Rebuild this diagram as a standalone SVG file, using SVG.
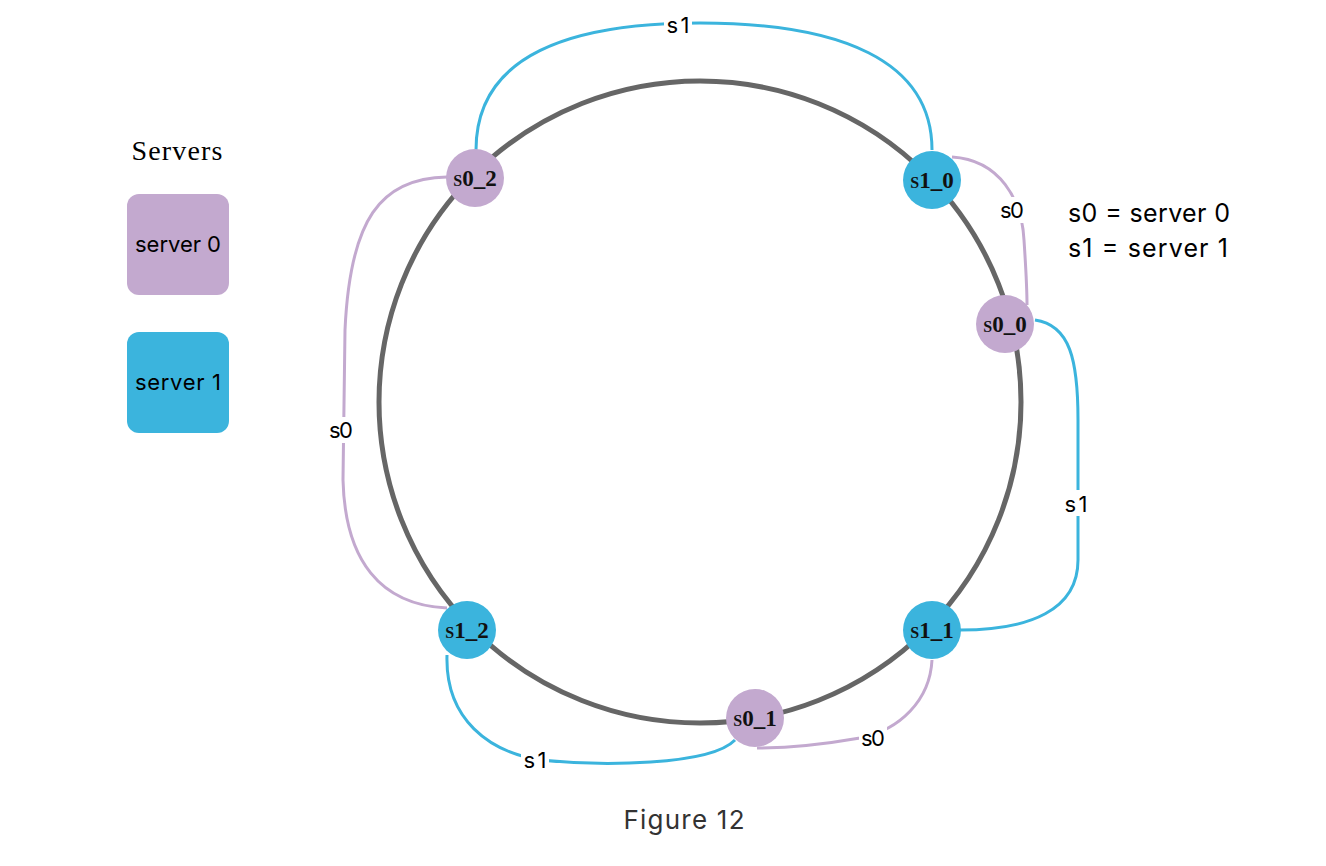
<svg xmlns="http://www.w3.org/2000/svg" width="1326" height="866" viewBox="0 0 1326 866">
<style>
.ring{fill:none;stroke:#666666;stroke-width:5}
.c0{fill:none;stroke:#C3A9CF;stroke-width:3}
.c1{fill:none;stroke:#3BB4DD;stroke-width:3}
.n0{fill:#C3A9CF}
.n1{fill:#3BB4DD}
.nl{font-family:"Liberation Serif",serif;font-size:23px;font-weight:bold;font-variant:small-caps;fill:#111;text-anchor:middle}
.lbl{font-family:Inter,"Liberation Sans",sans-serif;font-size:22px;fill:#000;text-anchor:middle}
.lb{fill:#fff}
.leg{font-family:Inter,"Liberation Sans",sans-serif;font-size:22px;fill:#000;text-anchor:middle}
.note{font-family:Inter,"Liberation Sans",sans-serif;font-size:25px;fill:#000}
</style>
<rect width="1326" height="866" fill="#fff"/>
<g id="ring"><circle class="ring" cx="700" cy="402" r="321"/></g>
<g id="connectors">
<path class="c1" d="M476,150 C476,60 560,23 700,23 C840,23 932,60 932,150"/>
<path class="c0" d="M952,157 C1000,160 1022,200 1024,240 C1026,270 1027,290 1027,305"/>
<path class="c1" d="M1035,320 C1070,325 1078,360 1078,420 L1078,560 C1078,610 1030,630 960,630"/>
<path class="c0" d="M932,660 C930,700 900,730 860,738 C820,745 790,748 757,748"/>
<path class="c1" d="M447,655 C445,720 490,752 540,760 C600,766 710,766 735,740"/>
<path class="c0" d="M447,177 C380,178 350,220 345,330 L343,480 C345,560 380,605 447,608"/>
<rect class="lb" x="664" y="12" width="28" height="26"/>
<text class="lbl" x="678" y="33" textLength="23">s1</text>
<rect class="lb" x="998" y="197" width="28" height="26"/>
<text class="lbl" x="1012" y="218" textLength="24">s0</text>
<rect class="lb" x="1062" y="490" width="28" height="26"/>
<text class="lbl" x="1076" y="512" textLength="23">s1</text>
<rect class="lb" x="859" y="725" width="28" height="26"/>
<text class="lbl" x="873" y="746" textLength="24">s0</text>
<rect class="lb" x="521" y="747" width="28" height="26"/>
<text class="lbl" x="535" y="768" textLength="23">s1</text>
<rect class="lb" x="327" y="417" width="28" height="26"/>
<text class="lbl" x="341" y="438" textLength="24">s0</text>
</g>
<g id="node-s0_2"><circle class="n0" cx="475" cy="178" r="29"/><text class="nl" x="475" y="186">s0_2</text></g>
<g id="node-s1_0"><circle class="n1" cx="932" cy="180" r="29"/><text class="nl" x="932" y="188">s1_0</text></g>
<g id="node-s0_0"><circle class="n0" cx="1005" cy="324" r="29"/><text class="nl" x="1005" y="332">s0_0</text></g>
<g id="node-s1_1"><circle class="n1" cx="932" cy="630" r="29"/><text class="nl" x="932" y="638">s1_1</text></g>
<g id="node-s0_1"><circle class="n0" cx="755" cy="718" r="29"/><text class="nl" x="755" y="726">s0_1</text></g>
<g id="node-s1_2"><circle class="n1" cx="467" cy="630" r="29"/><text class="nl" x="467" y="638">s1_2</text></g>
<g id="legend">
<text x="177" y="160" textLength="91" style="font-family:'Liberation Serif',serif;font-size:28px;text-anchor:middle;fill:#000">Servers</text>
<rect class="n0" x="127" y="194" width="102" height="101" rx="12"/>
<text class="leg" x="178" y="252" textLength="86">server 0</text>
<rect class="n1" x="127" y="332" width="102" height="101" rx="12"/>
<text class="leg" x="178" y="390" textLength="86">server 1</text>
</g>
<g id="notes">
<text class="note" x="1068" y="222" textLength="162">s0 = server 0</text>
<text class="note" x="1068" y="257" textLength="160">s1 = server 1</text>
</g>
<text x="684" y="829" textLength="121" style="font-family:Inter,'Liberation Sans',sans-serif;font-size:26px;fill:#333;text-anchor:middle">Figure 12</text>
</svg>
